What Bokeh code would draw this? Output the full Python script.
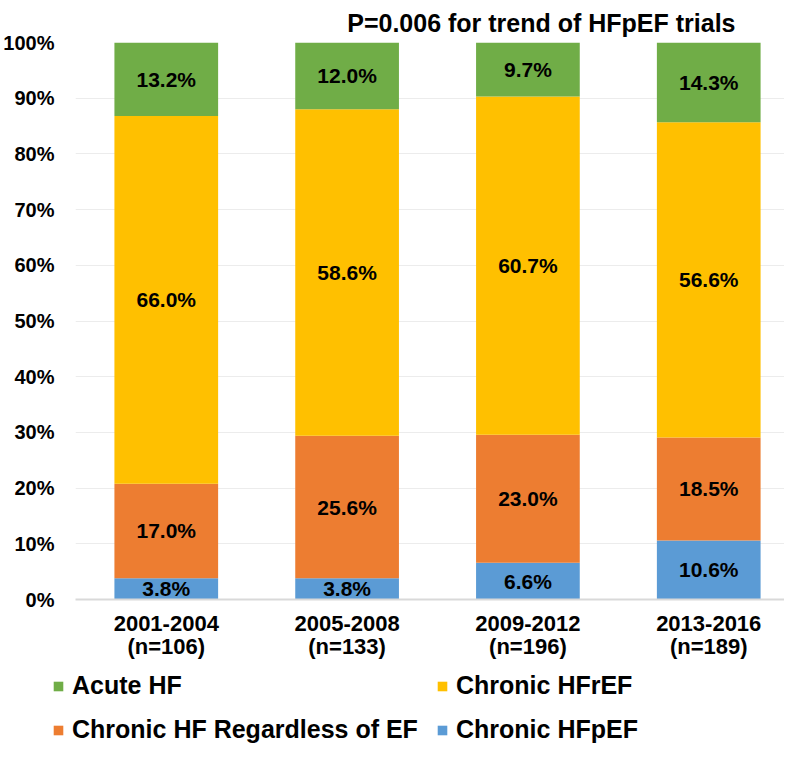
from bokeh.plotting import figure
from bokeh.layouts import column
from bokeh.models import Range1d, FixedTicker, Legend, LegendItem, ColumnDataSource
from bokeh.core.properties import value
from bokeh.embed import file_html
from bokeh.resources import INLINE

# ---- data ----
periods = ["2001-2004", "2005-2008", "2009-2012", "2013-2016"]
n_trials = [106, 133, 196, 189]
series_names = ["Chronic HFpEF", "Chronic HF Regardless of EF", "Chronic HFrEF", "Acute HF"]
hfpef = [3.8, 3.8, 6.6, 10.6]
regardless = [17.0, 25.6, 23.0, 18.5]
hfref = [66.0, 58.6, 60.7, 56.6]
acute = [13.2, 12.0, 9.7, 14.3]
colors = ["#5B9BD5", "#ED7D31", "#FFC000", "#70AD47"]
y_ticks = list(range(0, 101, 10))
y_tick_labels = [f"{t}%" for t in y_ticks]
title_text = "P=0.006 for trend of HFpEF trials"
legend_order = ["Acute HF", "Chronic HFrEF", "Chronic HF Regardless of EF", "Chronic HFpEF"]

FONT = "Liberation Sans"
W = 784
H_MAIN = 664
H_LEG = 80

xs = [i + 0.5 for i in range(len(periods))]
keys = ["hfpef", "regardless", "hfref", "acute"]
values_by_key = dict(hfpef=hfpef, regardless=regardless, hfref=hfref, acute=acute)
src = ColumnDataSource(dict(x=xs, **values_by_key))
BAR_W = 0.5735

p = figure(width=W, height=H_MAIN,
           x_range=Range1d(-0.002, 3.919), y_range=Range1d(0, 100),
           output_backend="svg", toolbar_location=None,
           min_border_left=73, min_border_right=0,
           min_border_top=42, min_border_bottom=65)
p.outline_line_color = None

renderers = p.vbar_stack(keys, x="x", width=BAR_W, color=colors,
                         line_color=None, source=src)

# segment labels
lx, ly, lt = [], [], []
for i, x in enumerate(xs):
    bottom = 0.0
    for k in keys:
        v = values_by_key[k][i]
        lx.append(x)
        ly.append(bottom + v / 2.0)
        lt.append(f"{v:.1f}%")
        bottom += v
p.text(x=lx, y=ly, text=lt, text_align="center", text_baseline="middle",
       text_font=value(FONT), text_font_style="bold", text_font_size="21px",
       text_color="#000000")

# axes
p.xgrid.visible = False
p.ygrid.grid_line_color = "#ececec"
p.ygrid.grid_line_width = 1
p.yaxis.ticker = FixedTicker(ticks=y_ticks)
p.yaxis.major_label_overrides = {t: l for t, l in zip(y_ticks, y_tick_labels)}
p.yaxis.axis_line_color = None
p.yaxis.major_tick_line_color = None
p.yaxis.minor_tick_line_color = None
p.yaxis.major_tick_out = 0
p.yaxis.major_label_standoff = 21
p.yaxis.major_label_text_font = FONT
p.yaxis.major_label_text_font_style = "bold"
p.yaxis.major_label_text_font_size = "20px"
p.yaxis.major_label_text_color = "#000000"

p.xaxis.ticker = FixedTicker(ticks=xs)
p.xaxis.major_label_overrides = {x: f"{per}\n(n={n})" for x, per, n in zip(xs, periods, n_trials)}
p.xaxis.axis_line_color = "#d9d9d9"
p.xaxis.axis_line_width = 2
p.xaxis.major_tick_line_color = None
p.xaxis.minor_tick_line_color = None
p.xaxis.major_tick_out = 0
p.xaxis.major_label_standoff = 11
p.xaxis.major_label_text_font = FONT
p.xaxis.major_label_text_font_style = "bold"
p.xaxis.major_label_text_font_size = "22px"
p.xaxis.major_label_text_line_height = 0.95
p.xaxis.major_label_text_color = "#000000"

# title
p.title.text = title_text
p.title.align = "right"
p.title.offset = 49
p.title.standoff = 12
p.title.text_font = FONT
p.title.text_font_style = "bold"
p.title.text_font_size = "25px"
p.title.text_color = "#000000"

# legend strip below the chart (hidden copies of the series drive the legend glyphs)
lf = figure(width=W, height=H_LEG, x_range=Range1d(0, W), y_range=Range1d(0, H_LEG),
            x_axis_type=None, y_axis_type=None, output_backend="svg",
            toolbar_location=None, min_border=0)
try:
    lf.frame_align = False
except Exception:
    pass
lf.outline_line_color = None
lf.xgrid.visible = False
lf.ygrid.visible = False
name_to_key = dict(zip(series_names, keys))
name_to_color = dict(zip(series_names, colors))
items = []
for nm in legend_order:
    r = lf.vbar(x="x", top=name_to_key[nm], width=BAR_W, color=name_to_color[nm],
                line_color=None, source=src, visible=False)
    items.append(LegendItem(label=nm, renderers=[r]))
legend = Legend(items=items, ncols=2, orientation="horizontal", location=(52, 0),
                label_text_font=FONT, label_text_font_style="bold",
                label_text_font_size="25px", label_text_color="#000000",
                glyph_width=12, glyph_height=12, label_standoff=8, spacing=15,
                label_width=349, padding=0, margin=0, border_line_color=None,
                background_fill_alpha=0, inactive_fill_alpha=0,
                click_policy="none")
lf.add_layout(legend, "center")

layout = column(p, lf, spacing=0)
open("out.html", "w").write(file_html(layout, INLINE))
